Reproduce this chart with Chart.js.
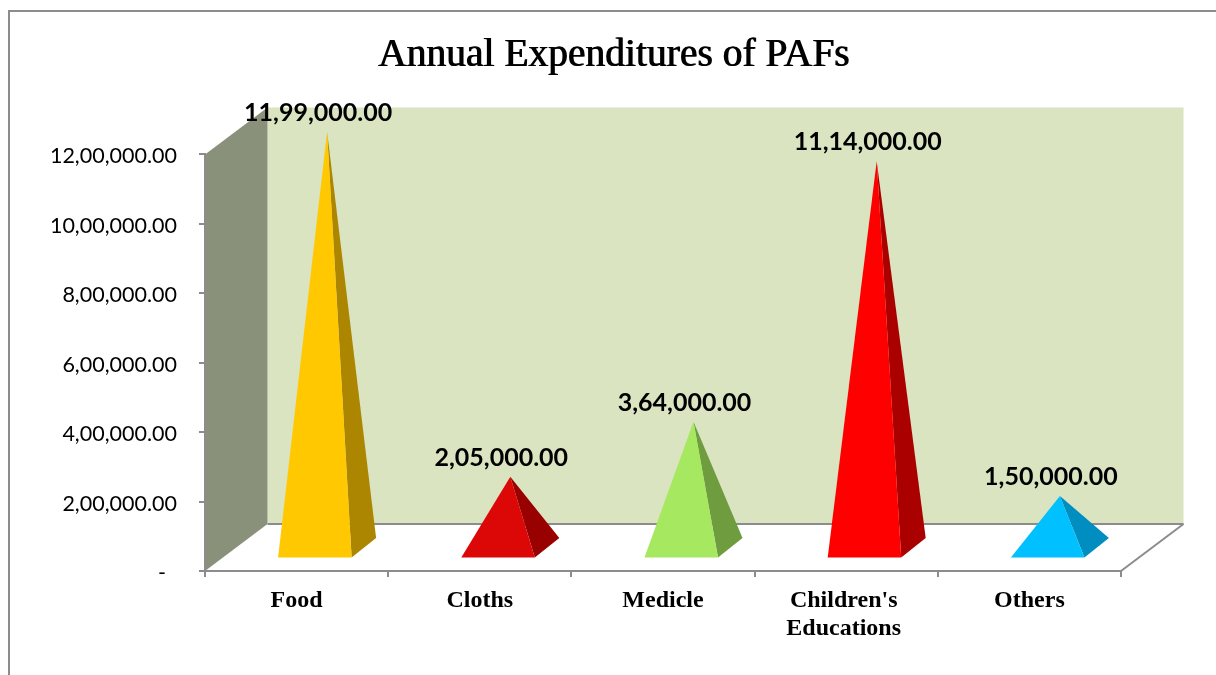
<!DOCTYPE html>
<html>
<head>
<meta charset="utf-8">
<title>Annual Expenditures of PAFs</title>
<script src="https://cdn.jsdelivr.net/npm/chart.js@4"></script>
<style>
  html, body { margin: 0; padding: 0; background: #fff; overflow: hidden; }
  canvas { display: block; }
</style>
</head>
<body>
<canvas id="grafica" width="1216" height="675"></canvas>
<script>
const categorias = ["Food", "Cloths", "Medicle", ["Children's", "Educations"], "Others"];
const gastos = [1199000, 205000, 364000, 1114000, 150000];
const etiquetasValor = ["11,99,000.00", "2,05,000.00", "3,64,000.00", "11,14,000.00", "1,50,000.00"];
const etiquetasEje = ["-", "2,00,000.00", "4,00,000.00", "6,00,000.00", "8,00,000.00", "10,00,000.00", "12,00,000.00"];

const coloresFrente = ["#ffc800", "#dc0808", "#a6e85f", "#ff0000", "#00c0ff"];
const coloresLado = ["#ac8600", "#990000", "#6f9c3f", "#ab0000", "#008dc0"];

const GRIS = "#8c8c8c";

function poligono(ctx, puntos, color) {
  ctx.fillStyle = color;
  ctx.beginPath();
  puntos.forEach((p, i) => (i ? ctx.lineTo(p[0], p[1]) : ctx.moveTo(p[0], p[1])));
  ctx.closePath();
  ctx.fill();
}

function linea(ctx, x1, y1, x2, y2) {
  ctx.strokeStyle = GRIS;
  ctx.lineWidth = 2;
  ctx.beginPath();
  ctx.moveTo(x1, y1);
  ctx.lineTo(x2, y2);
  ctx.stroke();
}

// paredes, piso y marco de la grafica
const paredes = {
  id: "paredes",
  afterLayout(chart) {
    const bloque = chart.titleBlock;
    bloque.left = 11;
    bloque.right = 1216;
    // el titulo original se ve algo mas grueso que la fuente normal
    const dibujar = bloque.draw;
    bloque.draw = function () {
      this.ctx.save();
      this.ctx.shadowColor = "#000";
      this.ctx.shadowOffsetX = 1;
      dibujar.call(this);
      this.ctx.restore();
    };
    // ajustes finos de las etiquetas de los ejes
    chart.scales.y.getLabelItems().forEach((item) => { item.options.translation[1] += 2; });
    chart.scales.x.getLabelItems()[3].options.translation[0] -= 2.5;
  },
  beforeDraw(chart) {
    const ctx = chart.ctx;
    const { left, right, top, bottom } = chart.chartArea;
    const dx = 62.5, dy = -47;
    ctx.save();
    ctx.fillStyle = "#fff";
    ctx.fillRect(0, 0, chart.width, chart.height);
    ctx.strokeStyle = GRIS;
    ctx.lineWidth = 2;
    ctx.strokeRect(9, 11, 1400, 900);
    poligono(ctx, [[left + dx, top + dy], [right + dx, top + dy], [right + dx, bottom + dy], [left + dx, bottom + dy]], "#dae4c0");
    linea(ctx, left + dx, bottom + dy, right + dx, bottom + dy);
    linea(ctx, right, bottom, right + dx, bottom + dy);
    poligono(ctx, [[left, top], [left + dx, top + dy], [left + dx, bottom + dy], [left, bottom]], "#8a917a");
    ctx.restore();
  },
};

// piramides sobre las barras invisibles
const piramides = {
  id: "piramides",
  afterDatasetsDraw(chart) {
    const ctx = chart.ctx;
    const base = chart.scales.y.getPixelForValue(0);
    ctx.save();
    chart.getDatasetMeta(0).data.forEach((barra, i) => {
      const cx = barra.x;
      const alto = base - barra.y;
      const apice = [cx + 30.5, base - 23 - alto];
      const izq = [cx - 18.5, base - 13.5];
      const der = [cx + 55, base - 13.5];
      const fondo = [cx + 79.5, base - 33];
      poligono(ctx, [der, fondo, apice], coloresLado[i]);
      poligono(ctx, [izq, der, apice], coloresFrente[i]);
      ctx.fillStyle = "#000";
      ctx.font = "bold 25px Lato";
      ctx.textAlign = "center";
      ctx.textBaseline = "middle";
      ctx.fillText(etiquetasValor[i], apice[0] - 9, apice[1] - 19);
    });
    ctx.restore();
  },
};

new Chart(document.getElementById("grafica").getContext("2d"), {
  type: "bar",
  data: {
    labels: categorias,
    datasets: [{ data: gastos, backgroundColor: "transparent", borderWidth: 0 }],
  },
  plugins: [paredes, piramides],
  options: {
    responsive: false,
    animation: false,
    layout: { padding: { right: 95 } },
    plugins: {
      legend: { display: false },
      tooltip: { enabled: false },
      title: {
        display: true,
        text: "Annual Expenditures of PAFs",
        color: "#000",
        font: { family: "Liberation Serif", size: 39.5, weight: "normal" },
        padding: { top: 32, bottom: 75 },
      },
    },
    scales: {
      x: {
        afterFit: (s) => { s.height = 104; },
        grid: { drawOnChartArea: false, color: GRIS, lineWidth: 2, tickLength: 6 },
        border: { color: GRIS, width: 2 },
        ticks: {
          color: "#000",
          padding: 10,
          maxRotation: 0,
          font: { family: "Liberation Serif", size: 24, weight: "bold", lineHeight: 1.17 },
        },
      },
      y: {
        min: 0,
        max: 1200000,
        afterFit: (s) => { s.width = 205; },
        grid: { drawOnChartArea: false, color: GRIS, lineWidth: 2, tickLength: 6 },
        border: { color: GRIS, width: 2 },
        ticks: {
          stepSize: 200000,
          color: "#000",
          padding: 22,
          font: { family: "Lato", size: 21.5 },
          callback: (v, i) => (i === 0 ? etiquetasEje[0] + "  " : etiquetasEje[i]),
        },
      },
    },
  },
});
</script>
</body>
</html>
